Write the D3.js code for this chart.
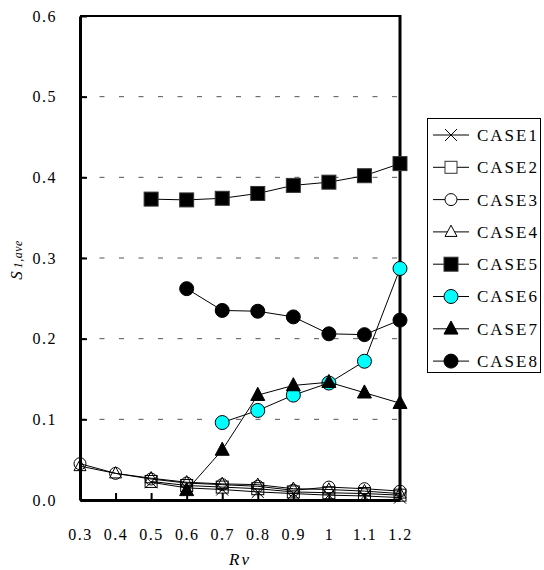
<!DOCTYPE html>
<html>
<head>
<meta charset="utf-8">
<script src="https://cdn.jsdelivr.net/npm/d3@7"></script>
<style>
  html, body { margin: 0; padding: 0; background: #fff; }
  svg { display: block; }
  text { font-family: "Liberation Serif", "Times New Roman", serif; fill: #000; }
</style>
</head>
<body>
<svg id="chart" width="544" height="570"></svg>
<script>
// Rv categories along the x axis
const rvLabels = ["0.3", "0.4", "0.5", "0.6", "0.7", "0.8", "0.9", "1", "1.1", "1.2"];
const yTicks = [0, 0.1, 0.2, 0.3, 0.4, 0.5, 0.6];

// S1,ave per case (null = no value at that Rv)
const case1 = [null, null, 0.022, 0.015, 0.013, 0.010, 0.008, 0.006, 0.005, 0.003];
const case2 = [null, null, 0.023, 0.018, 0.016, 0.014, 0.010, 0.009, 0.008, 0.006];
const case3 = [0.045, 0.033, 0.026, 0.021, 0.019, 0.017, 0.012, 0.016, 0.014, 0.011];
const case4 = [0.042, 0.033, 0.027, 0.022, 0.020, 0.019, 0.014, 0.013, 0.011, 0.008];
const case5 = [null, null, 0.373, 0.372, 0.374, 0.380, 0.390, 0.394, 0.402, 0.417];
const case6 = [null, null, null, null, 0.096, 0.111, 0.130, 0.145, 0.172, 0.287];
const case7 = [null, null, null, 0.012, 0.062, 0.130, 0.142, 0.146, 0.133, 0.120];
const case8 = [null, null, null, 0.262, 0.235, 0.234, 0.227, 0.206, 0.205, 0.223];

const caseNames = ["CASE1", "CASE2", "CASE3", "CASE4", "CASE5", "CASE6", "CASE7", "CASE8"];
const caseValues = [case1, case2, case3, case4, case5, case6, case7, case8];
const caseMarkers = ["cross", "square", "circle", "triangle", "square", "circle", "triangle", "circle"];
const caseFills = ["none", "none", "none", "none", "#000", "#00ffff", "#000", "#000"];

const svg = d3.select("#chart");
const plot = { left: 80, right: 400, top: 16, bottom: 500 };

const x = d3.scalePoint().domain(rvLabels).range([plot.left, plot.right]);
const y = d3.scaleLinear().domain([0, 0.6]).range([plot.bottom, plot.top]);

// dashed horizontal gridlines
svg.append("g")
  .selectAll("line")
  .data(yTicks.filter(t => t > 0 && t < 0.6))
  .join("line")
  .attr("x1", plot.left).attr("x2", plot.right)
  .attr("y1", d => y(d)).attr("y2", d => y(d))
  .attr("stroke", "#555").attr("stroke-width", 1)
  .attr("stroke-dasharray", "5,14.5");

// y axis with inward ticks
const yAxis = svg.append("g")
  .attr("transform", `translate(${plot.left},0)`)
  .call(d3.axisLeft(y).tickValues(yTicks).tickFormat(d3.format(".1f")).tickSizeInner(-7).tickSizeOuter(0).tickPadding(23));
yAxis.select(".domain").attr("stroke-width", 3);
yAxis.selectAll(".tick line").attr("stroke-width", 2);
yAxis.selectAll(".tick text").attr("font-size", 16).attr("letter-spacing", "1.5px")
  .attr("font-family", "Liberation Serif, serif");

// x axis with inward ticks
const xAxis = svg.append("g")
  .attr("transform", `translate(0,${plot.bottom})`)
  .call(d3.axisBottom(x).tickSizeInner(-7).tickSizeOuter(0).tickPadding(0));
xAxis.select(".domain").attr("stroke-width", 3);
xAxis.selectAll(".tick line").attr("stroke-width", 2);
xAxis.selectAll(".tick text").attr("font-size", 16).attr("letter-spacing", "1.5px")
  .attr("font-family", "Liberation Serif, serif")
  .attr("dy", null).attr("y", 40);

// top and right frame
svg.append("line").attr("x1", plot.left).attr("x2", plot.right)
  .attr("y1", plot.top).attr("y2", plot.top).attr("stroke", "#000").attr("stroke-width", 2);
svg.append("line").attr("x1", plot.right).attr("x2", plot.right)
  .attr("y1", plot.top - 1).attr("y2", plot.bottom).attr("stroke", "#000").attr("stroke-width", 3);

// marker drawing helper
function marker(g, type, fill, size) {
  const s = size;
  if (type === "cross") {
    g.append("path").attr("d", `M${-s/2},${-s/2}L${s/2},${s/2}M${-s/2},${s/2}L${s/2},${-s/2}`)
      .attr("stroke", "#000").attr("stroke-width", 1).attr("fill", "none");
  } else if (type === "square") {
    g.append("rect").attr("x", -s/2).attr("y", -s/2).attr("width", s).attr("height", s)
      .attr("fill", fill).attr("stroke", fill === "none" ? "#000" : "#333").attr("stroke-width", 1);
  } else if (type === "circle") {
    g.append("circle").attr("r", s/2).attr("fill", fill)
      .attr("stroke", "#000").attr("stroke-width", 1);
  } else if (type === "triangle") {
    const h = s * 0.9;
    g.append("path").attr("d", `M0,${-h*0.62}L${s/2},${h*0.42}L${-s/2},${h*0.42}Z`)
      .attr("fill", fill).attr("stroke", "#000").attr("stroke-width", 1);
  }
}

function markerSize(i) { return i < 4 ? 12 : 14; }

const line = d3.line()
  .defined(d => d.v !== null)
  .x(d => x(d.rv)).y(d => y(d.v));

caseValues.forEach((vals, i) => {
  const pts = vals.map((v, j) => ({ rv: rvLabels[j], v }));
  const g = svg.append("g");
  g.append("path").datum(pts).attr("d", line)
    .attr("fill", "none").attr("stroke", "#000").attr("stroke-width", 1);
  pts.filter(p => p.v !== null).forEach(p => {
    const mg = g.append("g").attr("transform", `translate(${x(p.rv)},${y(p.v)})`);
    marker(mg, caseMarkers[i], caseFills[i], markerSize(i));
  });
});

// axis titles
const yt = svg.append("text")
  .attr("transform", `translate(22,260) rotate(-90)`)
  .attr("text-anchor", "middle")
  .attr("font-style", "italic");
yt.append("tspan").attr("font-size", 17).text("S");
yt.append("tspan").attr("font-size", 12).attr("dx", 3).attr("letter-spacing", "0.5px").text("1,ave");

svg.append("text")
  .attr("x", 240).attr("y", 565)
  .attr("text-anchor", "middle")
  .attr("font-size", 17).attr("font-style", "italic").attr("letter-spacing", "2px")
  .text("Rv");

// legend
const legend = svg.append("g");
legend.append("rect")
  .attr("x", 427.5).attr("y", 118.5).attr("width", 113).attr("height", 254)
  .attr("fill", "#fff").attr("stroke", "#000").attr("stroke-width", 1);
caseNames.forEach((name, i) => {
  const ly = 135 + i * 32.3;
  const row = legend.append("g").attr("transform", `translate(0,${ly})`);
  row.append("line").attr("x1", 433).attr("x2", 469).attr("y1", 0).attr("y2", 0)
    .attr("stroke", "#000").attr("stroke-width", 1);
  const mg = row.append("g").attr("transform", "translate(451,0)");
  marker(mg, caseMarkers[i], caseFills[i] === "none" ? "#fff" : caseFills[i], markerSize(i));
  row.append("text").attr("x", 477).attr("y", 0).attr("dy", "0.35em")
    .attr("font-size", 17).attr("letter-spacing", "2px").text(name);
});
</script>
</body>
</html>
